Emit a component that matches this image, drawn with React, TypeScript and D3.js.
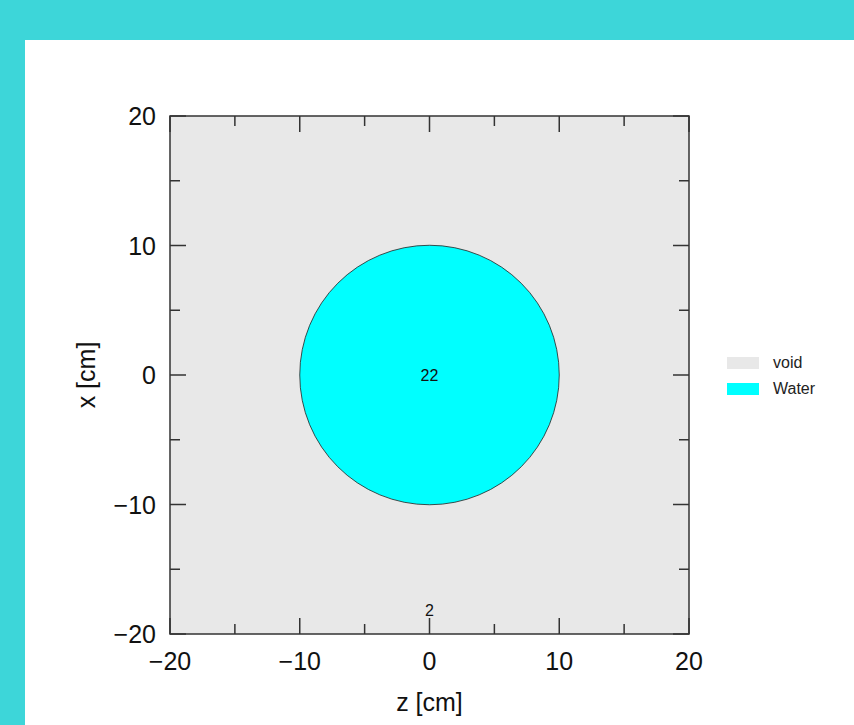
import React from 'react'
import * as d3 from 'd3'

// geometry of the cut (cm)
const circleCenter = [0, 0]
const circleRadius = 10
const axisDomain = [-20, 20]
const majorTicks = [-20, -10, 0, 10, 20]
const minorTicks = [-15, -5, 5, 15]
const cellLabels = [
  { z: 0, x: 0, text: '22' },
  { z: 0, x: -18.2, text: '2' },
]
const materials = [
  { name: 'void', color: '#e8e8e8' },
  { name: 'Water', color: '#00ffff' },
]

const W = 854
const H = 725
const margin = { left: 170, top: 116, right: 165, bottom: 91 }
const font = 'Liberation Sans, Arial, Helvetica, sans-serif'

export default function App() {
  const x = d3.scaleLinear().domain(axisDomain).range([margin.left, W - margin.right])
  const y = d3.scaleLinear().domain(axisDomain).range([H - margin.bottom, margin.top])
  const [x0, x1] = x.range()
  const [y0, y1] = y.range()
  const ticks = majorTicks.map(t => ({ t, len: 16 })).concat(minorTicks.map(t => ({ t, len: 10 })))

  const circle = d3.arc()({
    innerRadius: 0,
    outerRadius: x(circleRadius) - x(0),
    startAngle: 0,
    endAngle: 2 * Math.PI,
  } as any)

  const fmt = (t: number) => d3.format('')(t).replace('-', '\u2212')

  return (
    <svg width={W} height={H} style={{ position: 'absolute', left: 0, top: 0, display: 'block' }}>
      <rect x={0} y={0} width={W} height={H} fill="#3dd6d9" />
      <rect x={25} y={40} width={W - 25} height={H - 40} fill="#ffffff" />

      {/* background material */}
      <rect x={x0} y={y1} width={x1 - x0} height={y0 - y1} fill={materials[0].color} />
      <path
        d={circle || ''}
        transform={`translate(${x(circleCenter[0])},${y(circleCenter[1])})`}
        fill={materials[1].color}
        stroke="#222"
        strokeWidth={0.8}
      />

      {/* cell numbers */}
      {cellLabels.map((c, i) => (
        <text key={i} x={x(c.z)} y={y(c.x)} textAnchor="middle" dominantBaseline="central"
          fontFamily={font} fontSize={16} fill="#111">{c.text}</text>
      ))}

      {/* frame */}
      <rect x={x0} y={y1} width={x1 - x0} height={y0 - y1} fill="none" stroke="#333" strokeWidth={1.5} />

      {/* ticks, inward on all four sides */}
      {ticks.map(({ t, len }) => (
        <g key={'t' + t} stroke="#333" strokeWidth={1.5}>
          <line x1={x(t)} x2={x(t)} y1={y0} y2={y0 - len} />
          <line x1={x(t)} x2={x(t)} y1={y1} y2={y1 + len} />
          <line x1={x0} x2={x0 + len} y1={y(t)} y2={y(t)} />
          <line x1={x1} x2={x1 - len} y1={y(t)} y2={y(t)} />
        </g>
      ))}

      {/* tick labels */}
      {majorTicks.map(t => (
        <g key={'l' + t} fontFamily={font} fontSize={25} fill="#111">
          <text x={x(t)} y={y0 + 36} textAnchor="middle">{fmt(t)}</text>
          <text x={x0 - 14} y={y(t) + 9} textAnchor="end">{fmt(t)}</text>
        </g>
      ))}

      {/* axis titles */}
      <text x={(x0 + x1) / 2} y={711} textAnchor="middle" fontFamily={font} fontSize={25} fill="#111">z [cm]</text>
      <text transform={`translate(${95},${(y0 + y1) / 2}) rotate(-90)`} textAnchor="middle"
        fontFamily={font} fontSize={25} fill="#111">x [cm]</text>

      {/* legend */}
      {materials.map((m, i) => (
        <g key={m.name} transform={`translate(727,${357 + i * 26})`}>
          <rect x={0} y={0} width={32} height={12} fill={m.color} />
          <text x={46} y={11} fontFamily={font} fontSize={16} fill="#222">{m.name}</text>
        </g>
      ))}
    </svg>
  )
}
